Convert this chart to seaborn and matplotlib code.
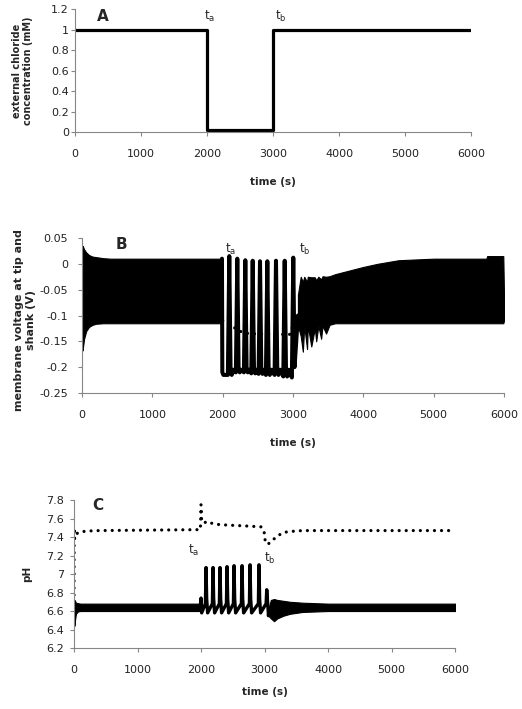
import numpy as np
import seaborn as sns
import matplotlib.pyplot as plt

sns.set_theme(style="ticks")
plt.rcParams['font.family'] = ['DejaVu Sans']

# ---- dados ----
time_ticks = [0, 1000, 2000, 3000, 4000, 5000, 6000]
time_labels = ["0", "1000", "2000", "3000", "4000", "5000", "6000"]

# painel A: cloreto externo
a_time = [0, 2000, 2000, 3000, 3000, 6000]
a_chloride = [1, 1, 0.02, 0.02, 1, 1]
a_ticks = [0, 0.2, 0.4, 0.6, 0.8, 1.0, 1.2]
a_labels = ["0", "0.2", "0.4", "0.6", "0.8", "1", "1.2"]

# painel B: voltagem (envelope da oscilacao rapida + picos)
b_env1_t = [0, 5, 15, 30, 60, 100, 150, 200, 300, 400, 600, 1990]
b_env1_hi = [0.0, 0.035, 0.033, 0.028, 0.022, 0.017, 0.014, 0.013, 0.011, 0.01, 0.01, 0.01]
b_env1_lo = [-0.1, -0.168, -0.16, -0.145, -0.13, -0.122, -0.118, -0.116, -0.115, -0.115, -0.115, -0.115]
b_spike_t = [2094, 2208, 2322, 2427, 2531, 2635, 2758, 2882, 3004]
b_spike_peak = [0.015, 0.01, 0.007, 0.006, 0.005, 0.005, 0.006, 0.006, 0.012]
b_spike_trough = [-0.215, -0.21, -0.21, -0.212, -0.213, -0.215, -0.215, -0.218, -0.22]
b_env2_t = [3070, 3110, 3140, 3160, 3200, 3210, 3260, 3310, 3330, 3360, 3400, 3420, 3470, 3520,
            3600, 3800, 4000, 4200, 4500, 5000, 5750, 5760, 5990, 6000]
b_env2_hi = [-0.06, -0.025, -0.035, -0.025, -0.035, -0.025, -0.026, -0.026, -0.032, -0.025, -0.03, -0.024,
             -0.025, -0.024, -0.02, -0.013, -0.006, 0.0, 0.007, 0.01, 0.01, 0.015, 0.015, -0.06]
b_env2_lo = [-0.12, -0.14, -0.17, -0.12, -0.165, -0.12, -0.16, -0.125, -0.15, -0.12, -0.145, -0.12,
             -0.135, -0.118, -0.115, -0.115, -0.115, -0.115, -0.115, -0.115, -0.115, -0.115, -0.115, -0.11]
b_dot_t = [2000, 2080, 2200, 2300, 2500, 2700, 2950, 3000, 3050]
b_dot_v = [-0.11, -0.115, -0.127, -0.134, -0.136, -0.136, -0.137, -0.12, -0.11]
b_ticks = [-0.25, -0.2, -0.15, -0.1, -0.05, 0, 0.05]
b_labels = ["-0.25", "-0.2", "-0.15", "-0.1", "-0.05", "0", "0.05"]

# painel C: pH
c_env1_t = [0, 5, 15, 30, 60, 100, 1990]
c_env1_hi = [6.62, 6.72, 6.71, 6.69, 6.685, 6.68, 6.68]
c_env1_lo = [6.62, 6.44, 6.50, 6.57, 6.595, 6.60, 6.60]
c_spike_t = [2079, 2189, 2299, 2410, 2520, 2646, 2772, 2913, 3035]
c_spike_peak = [7.07, 7.07, 7.07, 7.08, 7.09, 7.09, 7.10, 7.10, 6.83]
c_env2_t = [3060, 3100, 3150, 3200, 3300, 3400, 3600, 3800, 4000, 6000]
c_env2_hi = [6.62, 6.72, 6.73, 6.72, 6.71, 6.70, 6.69, 6.685, 6.68, 6.68]
c_env2_lo = [6.55, 6.52, 6.49, 6.52, 6.55, 6.57, 6.59, 6.595, 6.60, 6.60]
c_dot_t = [0, 3, 10, 25, 50, 100, 200, 400, 1990, 2000, 2010, 2040, 2100, 2200, 2400, 2700, 2950,
           3000, 3010, 3050, 3100, 3200, 3300, 3400, 3600, 6000]
c_dot_v = [6.62, 7.5, 7.38, 7.42, 7.44, 7.455, 7.465, 7.47, 7.48, 7.75, 7.58, 7.55, 7.57, 7.54, 7.53,
           7.52, 7.51, 7.44, 7.36, 7.32, 7.35, 7.41, 7.45, 7.46, 7.47, 7.47]
c_ticks = [6.2, 6.4, 6.6, 6.8, 7.0, 7.2, 7.4, 7.6, 7.8]
c_labels = ["6.2", "6.4", "6.6", "6.8", "7", "7.2", "7.4", "7.6", "7.8"]

LW = 2.3
GRAY = '#868686'

# montagem dos tracos de pico (largura de subida/descida fixa)
bx, by = [1990, 1995, 2010], [0.01, -0.21, -0.215]
for t, p, tr in zip(b_spike_t, b_spike_peak, b_spike_trough):
    bx += [t - 20, t, t + 18, t + 35, t + 60]
    by += [tr, p, -0.2, tr, -0.205]
bx = bx[:-2] + [3070]
by = by[:-2] + [-0.1]

cx, cy = [1990, 2000, 2010], [6.66, 6.74, 6.58]
for t, p in zip(c_spike_t, c_spike_peak):
    cx += [t - 10, t, t + 10, t + 25]
    cy += [6.68, p, 6.73, 6.58]
cx += [3060]
cy += [6.55]


def estilo(ax, yt, yl, ypad):
    ax.set_xlim(0, 6000)
    ax.set_xticks(time_ticks)
    ax.set_xticklabels(time_labels)
    ax.set_yticks(yt)
    ax.set_yticklabels(yl)
    ax.set_ylim(yt[0], yt[-1])
    for s in ['top', 'right']:
        ax.spines[s].set_visible(False)
    for s in ['left', 'bottom']:
        ax.spines[s].set_color(GRAY)
        ax.spines[s].set_linewidth(0.8)
    ax.tick_params(axis='x', length=3, width=0.8, color=GRAY, pad=9, labelsize=8, labelcolor='#222222')
    ax.tick_params(axis='y', length=3, width=0.8, color=GRAY, pad=ypad, labelsize=8, labelcolor='#222222')
    ax.set_xlabel("time (s)", fontsize=7.5, fontweight='bold', labelpad=13)
    ax.set_facecolor('white')


fig = plt.figure(figsize=(5.22, 7.09), dpi=100)
axA = fig.add_axes([0.1437, 0.8138, 0.7586, 0.1735])
axB = fig.add_axes([0.1571, 0.4457, 0.8084, 0.2186])
axC = fig.add_axes([0.1418, 0.0860, 0.7299, 0.2087])

# A
sns.lineplot(x=a_time, y=a_chloride, ax=axA, color='black', lw=LW, sort=False, estimator=None)
estilo(axA, a_ticks, a_labels, 1.5)
axA.set_ylabel("external chloride\nconcentration (mM)", fontsize=7, fontweight='bold')
axA.yaxis.set_label_coords(-0.105, 0.5)
axA.text(0.055, 0.905, "A", transform=axA.transAxes, fontsize=11, fontweight='bold')
axA.text(1955, 1.09, r"$\mathregular{t_a}$", fontsize=8.5)
axA.text(3030, 1.09, r"$\mathregular{t_b}$", fontsize=8.5)

# B
sns.lineplot(x=b_dot_t, y=b_dot_v, ax=axB, color='black', lw=LW, linestyle=(0, (0.01, 2.2)),
             dash_capstyle='round', sort=False, estimator=None, zorder=1)
axB.fill_between(b_env1_t, b_env1_lo, b_env1_hi, color='black', lw=0.8, zorder=2)
axB.fill_between(b_env2_t, b_env2_lo, b_env2_hi, color='black', lw=0.8, zorder=2)
sns.lineplot(x=bx, y=by, ax=axB, color='black', lw=2.9, sort=False, estimator=None, zorder=3)
estilo(axB, b_ticks, b_labels, 7)
axB.set_ylabel("membrane voltage at tip and\nshank (V)", fontsize=8, fontweight='bold')
axB.yaxis.set_label_coords(-0.11, 0.47)
axB.text(0.08, 0.93, "B", transform=axB.transAxes, fontsize=11, fontweight='bold')
axB.text(2040, 0.022, r"$\mathregular{t_a}$", fontsize=8.5)
axB.text(3090, 0.022, r"$\mathregular{t_b}$", fontsize=8.5)

# C
sns.lineplot(x=c_dot_t, y=c_dot_v, ax=axC, color='black', lw=LW, linestyle=(0, (0.01, 2.2)),
             dash_capstyle='round', sort=False, estimator=None, zorder=1)
axC.fill_between(c_env1_t, c_env1_lo, c_env1_hi, color='black', lw=0.8, zorder=2)
axC.fill_between(c_env2_t, c_env2_lo, c_env2_hi, color='black', lw=0.8, zorder=2)
sns.lineplot(x=cx, y=cy, ax=axC, color='black', lw=2.4, sort=False, estimator=None, zorder=3)
estilo(axC, c_ticks, c_labels, 4)
axC.set_ylabel("pH", fontsize=7.5, fontweight='bold')
axC.yaxis.set_label_coords(-0.11, 0.5)
axC.xaxis.labelpad = 9
axC.text(0.047, 0.93, "C", transform=axC.transAxes, fontsize=11, fontweight='bold')
axC.text(1800, 7.22, r"$\mathregular{t_a}$", fontsize=8.5)
axC.text(2990, 7.13, r"$\mathregular{t_b}$", fontsize=8.5)

plt.savefig("out.png", dpi=100, facecolor='white')
